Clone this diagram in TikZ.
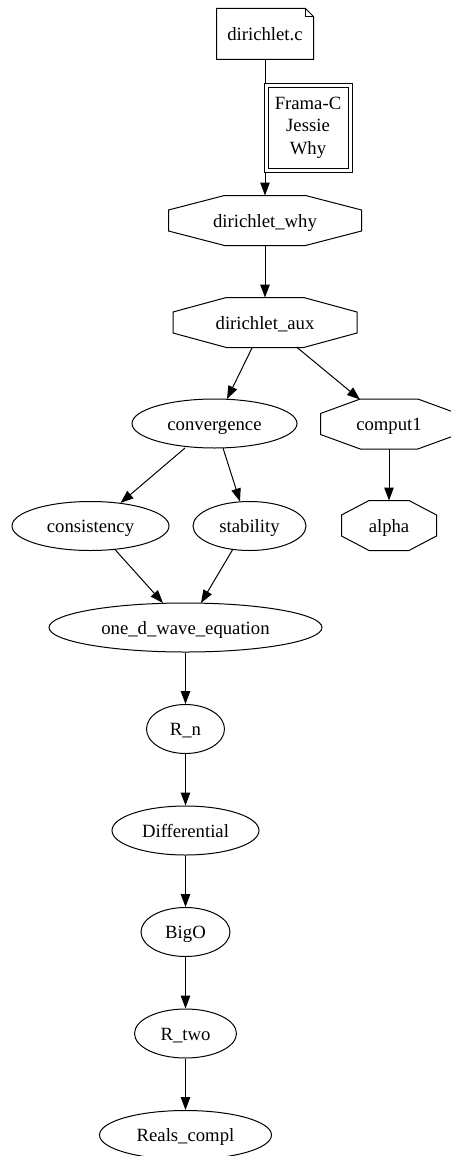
\documentclass[tikz,border=0pt]{standalone}
\usepackage{fontspec}
\setmainfont{Liberation Serif}
\usetikzlibrary{calc,shapes.geometric,arrows.meta}

\tikzset{
  txt/.style={inner sep=0pt, font=\fontsize{18.7}{22.4}\selectfont, line width=1pt},
  base/.style={txt, text height=15pt, text depth=2pt},
  ell/.style={base, ellipse, draw, minimum height=49pt, minimum width=#1},
  oct/.style={base, rectangle, minimum height=49pt, minimum width=#1},
  notebox/.style={base, rectangle, minimum height=50pt, minimum width=96pt},
  toolbox/.style={txt, rectangle, draw, double, double distance=3pt,
                  minimum width=84pt, minimum height=85pt, align=center},
  edge/.style={line width=1pt, -{Triangle[length=13pt,width=9.5pt]}},
}

% stretched octagon drawn on the frame of a rectangular node
\newcommand\octframe[1]{%
  \draw[line width=1pt]
    ($(#1.north west)!0.29!(#1.north east)$) --
    ($(#1.north west)!0.71!(#1.north east)$) --
    ($(#1.north east)!0.29!(#1.south east)$) --
    ($(#1.north east)!0.71!(#1.south east)$) --
    ($(#1.south west)!0.71!(#1.south east)$) --
    ($(#1.south west)!0.29!(#1.south east)$) --
    ($(#1.north west)!0.71!(#1.south west)$) --
    ($(#1.north west)!0.29!(#1.south west)$) -- cycle;}

% file icon with a folded top-right corner
\newcommand\noteframe[1]{%
  \draw[line width=1pt]
    (#1.south west) -- (#1.north west) -- ($(#1.north east)+(-8,0)$) --
    ($(#1.north east)+(0,8)$) -- (#1.south east) -- cycle;
  \draw[line width=1pt]
    ($(#1.north east)+(-8,0)$) -- ($(#1.north east)+(-8,8)$) --
    ($(#1.north east)+(0,8)$);}

\begin{document}
\begin{tikzpicture}[x=1pt, y=-1pt]
  \useasboundingbox (0,0) rectangle (450,1156);

  % source file and generated theories
  \node[notebox] (src) at (265,34) {dirichlet.c};
  \noteframe{src}

  \node[oct=192pt] (why) at (265,220.5) {dirichlet\_why};
  \octframe{why}
  \node[oct=183pt] (aux) at (265,322.5) {dirichlet\_aux};
  \octframe{aux}
  \node[oct=136pt] (comput) at (389,424) {comput1};
  \octframe{comput}
  \node[oct=94pt] (alpha) at (389,525.5) {alpha};
  \octframe{alpha}

  % Coq developments
  \node[ell=165pt] (conv) at (214.5,423.5) {convergence};
  \node[ell=157pt] (cons) at (90.5,526) {consistency};
  \node[ell=113pt] (stab) at (249.5,526) {stability};
  \node[ell=273pt] (wave) at (185.5,627.5) {one\_d\_wave\_equation};
  \node[ell=78pt]  (rn)   at (185.5,729) {R\_n};
  \node[ell=147pt] (diff) at (185.5,830.5) {Differential};
  \node[ell=89pt]  (bigo) at (185.5,932) {BigO};
  \node[ell=102pt] (rtwo) at (185.5,1033.5) {R\_two};
  \node[ell=172pt] (reals) at (185.5,1135) {Reals\_compl};

  % dependencies
  \draw[edge] (src.south) -- (why.north);
  \node[toolbox] (tools) at (308,127.5) {Frama-C\\Jessie\\Why};
  \draw[edge] (why.south) -- (aux.north);
  \draw[edge] ($(aux)+(-12.5,24.5)$) -- ($(conv)+(12.5,-24.5)$);
  \draw[edge] ($(aux)+(31.5,24.5)$) -- ($(comput)+(-29,-24.5)$);
  \draw[edge] (comput.south) -- (alpha.north);
  \draw[edge] ($(conv)+(-29.5,24.5)$) -- ($(cons)+(30,-23)$);
  \draw[edge] ($(conv)+(8.5,24.5)$) -- ($(stab)+(-9.5,-24.5)$);
  \draw[edge] ($(cons)+(24,23)$) -- ($(wave)+(-22.5,-24.5)$);
  \draw[edge] ($(stab)+(-16.5,23)$) -- ($(wave)+(15.5,-24.5)$);
  \draw[edge] (wave.south) -- (rn.north);
  \draw[edge] (rn.south) -- (diff.north);
  \draw[edge] (diff.south) -- (bigo.north);
  \draw[edge] (bigo.south) -- (rtwo.north);
  \draw[edge] (rtwo.south) -- (reals.north);
\end{tikzpicture}
\end{document}
